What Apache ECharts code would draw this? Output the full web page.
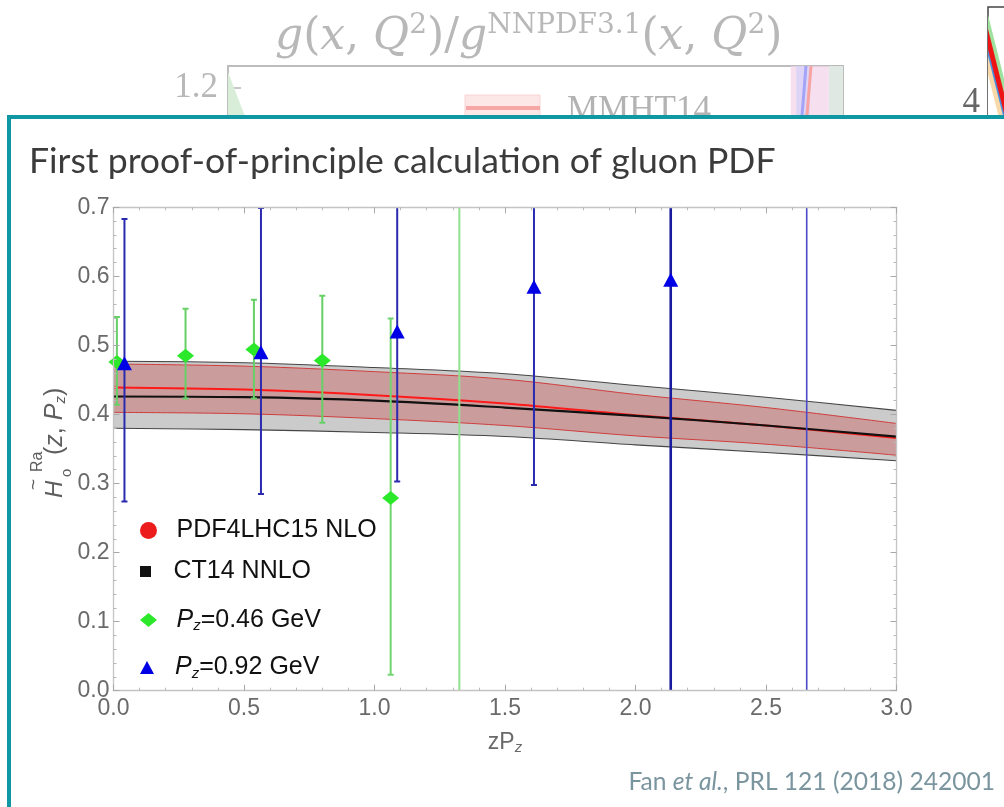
<!DOCTYPE html>
<html>
<head>
<meta charset="utf-8">
<script src="https://cdn.jsdelivr.net/npm/echarts@6/dist/echarts.min.js"></script>
<style>
  html, body { margin: 0; padding: 0; background: #fff; }
  #chart { width: 1004px; height: 807px; }
</style>
</head>
<body>
<div id="chart"></div>
<script>
// ---- Lattice result vs. global fits: gluon reduced ITD ----
// PDF bands (zP_z grid)
const bandX          = [0, 0.5, 1.0, 1.5, 2.0, 2.5, 3.0];
const ct14Upper      = [0.477, 0.475, 0.468, 0.459, 0.442, 0.425, 0.406];
const ct14Central    = [0.426, 0.425, 0.420, 0.410, 0.398, 0.384, 0.368];
const ct14Lower      = [0.380, 0.378, 0.374, 0.368, 0.356, 0.345, 0.333];
const pdf4lhcUpper   = [0.473, 0.470, 0.462, 0.451, 0.429, 0.410, 0.387];
const pdf4lhcCentral = [0.439, 0.436, 0.428, 0.416, 0.399, 0.384, 0.366];
const pdf4lhcLower   = [0.403, 0.401, 0.394, 0.384, 0.369, 0.357, 0.341];

// Lattice points, P_z = 0.46 GeV
const pz046X  = [0.013, 0.276, 0.538, 0.800, 1.062, 1.325];
const pz046Y  = [0.476, 0.485, 0.494, 0.478, 0.279, 0.82];
const pz046Lo = [0.414, 0.423, 0.423, 0.388, 0.023, -0.15];
const pz046Hi = [0.541, 0.553, 0.566, 0.572, 0.539, 1.79];

// Lattice points, P_z = 0.92 GeV
const pz092X  = [0.042, 0.565, 1.087, 1.611, 2.135, 2.656];
const pz092Y  = [0.474, 0.490, 0.520, 0.585, 0.595, 0.95];
const pz092Lo = [0.274, 0.285, 0.303, 0.298, -0.10, -0.20];
const pz092Hi = [0.683, 0.699, 0.737, 0.872, 1.29, 2.10];

// Partly hidden ratio plot behind the slide box
const ratioBlueLine  = [[0.9398, 1.25], [0.9255, 1.0]];
const ratioRedLine   = [[0.9480, 1.25], [0.9334, 1.0]];
const ratioEdgeFill  = [[0, 1.236], [0.0276, 1.136], [0.06, 1.0]];
const ratioBands     = [[0.915, 0.977, 'rgba(243,214,233,0.75)'], [0.924, 0.946, 'rgba(214,210,248,0.75)'], [0.977, 1.0, '#dfe8e3']];

// Partly hidden band plot at the top right (band edges, top to bottom)
const stripeX           = [0, 1];
const stripeGreenTop    = [4.92, 2.84];
const stripeRedTop      = [4.77, 2.69];
const stripeBlueTop     = [4.56, 2.48];
const stripeOrangeTop   = [4.49, 2.41];
const stripeOrangeBase  = [4.30, 2.22];

const pairs = (xs, ys) => xs.map((x, i) => [x, ys[i]]);

const SANS = '"Liberation Sans", Arial, sans-serif';
const SERIF = '"DejaVu Serif", "Liberation Serif", serif';
const SLIDE = 'Lato, "Open Sans", sans-serif';
const TICK_GRAY = '#6a6a6a';
const YNAME = '#5e5e5e';

const chart = echarts.init(document.getElementById('chart'), null, { renderer: 'canvas' });

// Edge curve that paints everything below it (down to 0) in one colour;
// layered from the top edge down, the fills build the two bands.
function edgeFill(name, xs, ys, color, width, fill, z) {
  return {
    type: 'line', name, data: pairs(xs, ys), xAxisIndex: 0, yAxisIndex: 0, zlevel: 2, z,
    symbol: 'none', smooth: 0.35, silent: true,
    lineStyle: { color, width },
    areaStyle: fill ? { color: fill, opacity: 1 } : undefined
  };
}

function errorBars(name, xs, lo, hi, colors, widths) {
  return {
    type: 'custom', name, xAxisIndex: 0, yAxisIndex: 0, zlevel: 2, z: 8, clip: true, silent: true,
    data: xs.map((x, i) => [x, lo[i], hi[i], i]),
    renderItem: (params, api) => {
      const i = api.value(3);
      const a = api.coord([api.value(0), api.value(1)]);
      const b = api.coord([api.value(0), api.value(2)]);
      const style = { stroke: colors[i], lineWidth: widths[i] };
      const cap = 3;
      return {
        type: 'group', children: [
          { type: 'line', shape: { x1: a[0], y1: a[1], x2: b[0], y2: b[1] }, style },
          { type: 'line', shape: { x1: a[0] - cap, y1: a[1], x2: a[0] + cap, y2: a[1] }, style },
          { type: 'line', shape: { x1: b[0] - cap, y1: b[1], x2: b[0] + cap, y2: b[1] }, style }
        ]
      };
    }
  };
}

function stripe(name, ys, fill) {
  return {
    type: 'line', name, xAxisIndex: 3, yAxisIndex: 4, zlevel: 0, silent: true, symbol: 'none',
    data: pairs(stripeX, ys), lineStyle: { width: 0 }, areaStyle: { color: fill, opacity: 1 }
  };
}

const frameAxisLine = { show: true, onZero: false, lineStyle: { color: '#c4c4c4', width: 1.3 } };
const frameTick = { show: true, inside: true, length: 6, lineStyle: { color: '#a8a8a8', width: 1 } };
const frameMinor = { show: true, length: 3, lineStyle: { color: '#b8b8b8', width: 1 } };

const legendBase = {
  orient: 'vertical', padding: 0, itemGap: 0, selectedMode: false, zlevel: 2, z: 30,
  itemWidth: 46, left: 140,
  textStyle: {
    fontSize: 25, fontFamily: SANS, color: '#111',
    rich: {
      p: { fontSize: 25, fontFamily: SANS, fontStyle: 'italic', color: '#111' },
      s: { fontSize: 15, fontFamily: SANS, fontStyle: 'italic', color: '#111', padding: [12, 0, 0, 0] }
    }
  },
  formatter: name => name.replace(/^Pz/, '{p|P}{s|z}')
};

function yNameText(x, y, text, size, italic, extra) {
  return {
    type: 'text', x, y, zlevel: 2, z: 10,
    style: Object.assign({
      text, fontSize: size, fontStyle: italic ? 'italic' : 'normal', fontFamily: SANS,
      fill: YNAME, verticalAlign: 'middle'
    }, extra || {})
  };
}

const option = {
  animation: false,
  backgroundColor: '#fff',
  title: [
    {
      text: '{i|g}({i|x}, {i|Q}{u|2})/{i|g}{u|NNPDF3.1}({i|x}, {i|Q}{u|2})',
      left: 270, top: 7, zlevel: 0,
      textStyle: {
        fontSize: 44, fontFamily: SERIF, color: '#b8b8b8', fontWeight: 'normal',
        rich: {
          i: { fontSize: 44, fontFamily: SERIF, fontStyle: 'italic', color: '#b8b8b8' },
          u: { fontSize: 28, fontFamily: SERIF, color: '#b8b8b8', padding: [0, 0, 24, 0] }
        }
      }
    },
    {
      text: 'First proof-of-principle calculation of gluon PDF',
      left: 24, top: 139, zlevel: 2,
      textStyle: { fontSize: 35.6, fontFamily: SLIDE, color: '#3b3b3b', fontWeight: 'normal' }
    },
    {
      text: 'Fan {i|et al.}, PRL 121 (2018) 242001',
      right: 4, top: 765, zlevel: 2,
      textStyle: {
        fontSize: 24.6, fontFamily: SLIDE, color: '#7b959f', fontWeight: 'normal',
        rich: { i: { fontSize: 24.6, fontFamily: SLIDE, fontStyle: 'italic', color: '#7b959f' } }
      }
    }
  ],
  grid: [
    { left: 113.5, top: 207.3, width: 783, height: 483.4, zlevel: 2 },
    { left: 228, top: 66, width: 615, height: 286, show: true, borderColor: '#bdbdbd', borderWidth: 2, backgroundColor: 'transparent', zlevel: 0 },
    { left: 988, top: 7, width: 200, height: 480, show: true, borderColor: '#444', borderWidth: 1.5, backgroundColor: 'transparent', zlevel: 0 }
  ],
  xAxis: [
    {
      type: 'value', gridIndex: 0, position: 'bottom', min: 0, max: 3, interval: 0.5, zlevel: 2, z: 20,
      axisLine: frameAxisLine, axisTick: frameTick, minorTick: Object.assign({ splitNumber: 5 }, frameMinor),
      splitLine: { show: false },
      axisLabel: { fontSize: 23, fontFamily: SANS, color: TICK_GRAY, margin: 6, formatter: v => v.toFixed(1) },
      name: '{n|zP}{s|z}', nameLocation: 'middle', nameGap: 38,
      nameTextStyle: {
        rich: {
          n: { fontSize: 23, fontFamily: SANS, color: TICK_GRAY },
          s: { fontSize: 15, fontFamily: SANS, fontStyle: 'italic', color: TICK_GRAY, padding: [12, 0, 0, 0] }
        }
      }
    },
    {
      type: 'value', gridIndex: 0, position: 'top', min: 0, max: 3, interval: 0.5, zlevel: 2, z: 20,
      axisLine: frameAxisLine, axisTick: frameTick, minorTick: Object.assign({ splitNumber: 5 }, frameMinor),
      splitLine: { show: false }, axisLabel: { show: false }
    },
    { type: 'value', gridIndex: 1, min: 0, max: 1, show: false, zlevel: 0 },
    { type: 'value', gridIndex: 2, min: 0, max: 1, show: false, zlevel: 0 }
  ],
  yAxis: [
    {
      type: 'value', gridIndex: 0, position: 'left', min: 0, max: 0.7, interval: 0.1, zlevel: 2, z: 20,
      axisLine: frameAxisLine, axisTick: frameTick, minorTick: Object.assign({ splitNumber: 5 }, frameMinor),
      splitLine: { show: false },
      axisLabel: { fontSize: 23, fontFamily: SANS, color: TICK_GRAY, margin: 4, formatter: v => v.toFixed(1) }
    },
    {
      type: 'value', gridIndex: 0, position: 'right', min: 0, max: 0.7, interval: 0.1, zlevel: 2, z: 20,
      axisLine: frameAxisLine, axisTick: frameTick, minorTick: Object.assign({ splitNumber: 5 }, frameMinor),
      splitLine: { show: false }, axisLabel: { show: false }
    },
    {
      type: 'value', gridIndex: 1, position: 'left', min: 0.6, max: 1.25, interval: 0.2, zlevel: 0,
      axisLine: { show: false }, splitLine: { show: false },
      axisTick: { show: true, inside: true, length: 13, lineStyle: { color: '#b5b5b5', width: 1.5 } },
      axisLabel: { fontSize: 35, fontFamily: '"Liberation Serif", serif', color: '#b8b8b8', margin: 10 }
    },
    {
      type: 'value', gridIndex: 1, position: 'right', min: 0.6, max: 1.25, interval: 0.2, zlevel: 0,
      axisLine: { show: false }, splitLine: { show: false }, axisLabel: { show: false },
      axisTick: { show: true, inside: true, length: 13, lineStyle: { color: '#b5b5b5', width: 1.5 } }
    },
    {
      type: 'value', gridIndex: 2, position: 'left', min: 0, max: 5, interval: 1, zlevel: 0,
      axisLine: { show: false }, splitLine: { show: false },
      axisTick: { show: true, inside: true, length: 12, lineStyle: { color: '#555', width: 1.5 } },
      axisLabel: { fontSize: 35, fontFamily: '"Liberation Serif", serif', color: '#666', margin: 8, showMaxLabel: false }
    }
  ],
  legend: [
    Object.assign({}, legendBase, { top: 518, itemHeight: 17,
      data: [{ name: 'PDF4LHC15 NLO', icon: 'circle', itemStyle: { color: '#ec1c1c' } }] }),
    Object.assign({}, legendBase, { top: 559, itemHeight: 11,
      data: [{ name: 'CT14 NNLO', icon: 'path://M0,0L1,0L1,1L0,1Z', itemStyle: { color: '#111' } }] }),
    Object.assign({}, legendBase, { top: 607.5, itemHeight: 14,
      data: [{ name: 'Pz=0.46 GeV', icon: 'path://M0,-7L8.5,0L0,7L-8.5,0Z', itemStyle: { color: '#2be82b' } }] }),
    Object.assign({}, legendBase, { top: 655, itemHeight: 13,
      data: [{ name: 'Pz=0.92 GeV', icon: 'path://M0,-6.5L7,6.5L-7,6.5Z', itemStyle: { color: '#0000e6' } }] })
  ],
  graphic: [
    // legend swatch of the background ratio plot
    { type: 'rect', zlevel: 0, shape: { x: 465, y: 95, width: 75, height: 40 }, style: { fill: '#fde6e6', stroke: '#fbd3d3', lineWidth: 1 } },
    { type: 'line', zlevel: 0, shape: { x1: 466, y1: 108, x2: 540, y2: 108 }, style: { stroke: '#f7a6a6', lineWidth: 4 } },
    { type: 'text', zlevel: 0, x: 567, y: 93, style: { text: 'MMHT14', fontSize: 35, fontFamily: '"Liberation Serif", serif', fill: '#b3b3b3' } },
    // slide box
    { type: 'rect', zlevel: 1, shape: { x: 9, y: 117, width: 1100, height: 800 }, style: { fill: '#fff', stroke: '#0f98a3', lineWidth: 4 } },
    // vertical axis title, read bottom to top
    {
      type: 'group', zlevel: 2, z: 10, x: 63, y: 498, rotation: Math.PI / 2,
      children: [
        yNameText(0, -8, 'H', 24, true),
        yNameText(8, -29, '~', 19, false),
        yNameText(21, 4, 'o', 15, false),
        yNameText(26, -25, 'Ra', 16, false),
        yNameText(43, -8, '({i|z}, {i|P}{s|z})', 25, false, {
          rich: {
            i: { fontSize: 25, fontFamily: SANS, fontStyle: 'italic', fill: YNAME },
            s: { fontSize: 15, fontFamily: SANS, fontStyle: 'italic', fill: YNAME, padding: [12, 0, 0, 0] }
          }
        })
      ]
    }
  ],
  series: [
    // CT14 NNLO and PDF4LHC15 NLO bands, painted from the top edge down
    edgeFill('ct14Upper', bandX, ct14Upper, '#464646', 1.1, '#cbcbcb', 1),
    edgeFill('pdfUpper', bandX, pdf4lhcUpper, '#cf3d3d', 1, '#cb9c9c', 2),
    edgeFill('pdfLower', bandX, pdf4lhcLower, '#cf3d3d', 1, '#cbcbcb', 3),
    edgeFill('ct14Lower', bandX, ct14Lower, '#464646', 1.1, '#ffffff', 4),
    // central values
    edgeFill('PDF4LHC15 NLO', bandX, pdf4lhcCentral, '#ff1a1a', 2, null, 5),
    edgeFill('CT14 NNLO', bandX, ct14Central, '#111111', 2.2, null, 6),
    // lattice error bars and points
    errorBars('Pz=0.46 GeV', pz046X, pz046Lo, pz046Hi,
      ['#66d066', '#66d066', '#66d066', '#66d066', '#72d472', '#90e090'], [2, 2, 2, 2, 2, 2]),
    errorBars('Pz=0.92 GeV', pz092X, pz092Lo, pz092Hi,
      ['#2a2ab0', '#2a2ab0', '#2a2ab0', '#2a2ab0', '#1a1a9e', '#4a4ac8'], [2, 2, 2, 2, 2.6, 1.6]),
    {
      type: 'scatter', name: 'Pz=0.46 GeV', xAxisIndex: 0, yAxisIndex: 0, zlevel: 2, z: 9, silent: true,
      data: pairs(pz046X, pz046Y), symbol: 'diamond', symbolSize: [17, 14],
      itemStyle: { color: '#2be82b', opacity: 1 }
    },
    {
      type: 'scatter', name: 'Pz=0.92 GeV', xAxisIndex: 0, yAxisIndex: 0, zlevel: 2, z: 10, silent: true,
      data: pairs(pz092X, pz092Y), symbol: 'triangle', symbolSize: [15, 14],
      itemStyle: { color: '#0000e6', opacity: 1 }
    },
    // background ratio plot fragments
    {
      type: 'line', name: 'ratioBands', xAxisIndex: 2, yAxisIndex: 2, zlevel: 0, silent: true, data: [],
      markArea: {
        silent: true,
        data: ratioBands.map(b => [{ xAxis: b[0], itemStyle: { color: b[2] } }, { xAxis: b[1] }])
      }
    },
    {
      type: 'line', name: 'ratioEdge', xAxisIndex: 2, yAxisIndex: 2, zlevel: 0, silent: true,
      data: ratioEdgeFill, symbol: 'none', lineStyle: { width: 0 },
      areaStyle: { color: '#d8eed8', opacity: 1 }
    },
    {
      type: 'line', name: 'ratioBlue', xAxisIndex: 2, yAxisIndex: 2, zlevel: 0, silent: true,
      data: ratioBlueLine, symbol: 'none', lineStyle: { color: '#a3a3f7', width: 3 }
    },
    {
      type: 'line', name: 'ratioRed', xAxisIndex: 2, yAxisIndex: 2, zlevel: 0, silent: true,
      data: ratioRedLine, symbol: 'none', lineStyle: { color: '#f7a3a3', width: 3 }
    },
    // top-right bands, painted from the top edge down
    stripe('sGreen', stripeGreenTop, '#9ee29e'),
    stripe('sRed', stripeRedTop, '#ee1414'),
    stripe('sBlue', stripeBlueTop, '#4a8fe2'),
    stripe('sOrange', stripeOrangeTop, '#f9d9a9'),
    stripe('sBase', stripeOrangeBase, '#ffffff')
  ]
};

chart.setOption(option);
</script>
</body>
</html>
